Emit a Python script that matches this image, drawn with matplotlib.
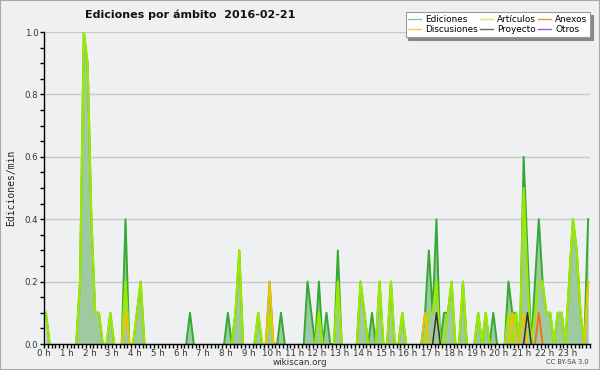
import numpy as np
import matplotlib
matplotlib.use("Agg")
import matplotlib.pyplot as plt
from matplotlib.patches import Rectangle
from matplotlib.lines import Line2D
from matplotlib.ticker import MultipleLocator, FixedLocator

# ---- data: edits per minute in 10-minute bins (144 bins, 6 per hour) ----
ediciones = [
    0.1, 0, 0, 0, 0, 0,          # 0h
    0, 0, 0, 0.2, 1.0, 0.9,      # 1h
    0.4, 0.1, 0.1, 0, 0, 0.1,    # 2h
    0, 0, 0, 0.4, 0, 0,          # 3h
    0.1, 0.2, 0, 0, 0, 0,        # 4h
    0, 0, 0, 0, 0, 0,            # 5h
    0, 0, 0.1, 0, 0, 0,          # 6h
    0, 0, 0, 0, 0, 0,            # 7h
    0.1, 0, 0.1, 0.3, 0, 0,      # 8h
    0, 0, 0.1, 0, 0, 0.2,        # 9h
    0, 0, 0.1, 0, 0, 0,          # 10h
    0, 0, 0, 0.2, 0.1, 0,        # 11h
    0.2, 0, 0.1, 0, 0, 0.3,      # 12h
    0, 0, 0, 0, 0, 0.2,          # 13h
    0.1, 0, 0.1, 0, 0.2, 0,      # 14h
    0, 0.2, 0, 0, 0.1, 0,        # 15h
    0, 0, 0, 0, 0.1, 0.3,        # 16h
    0.1, 0.4, 0, 0.1, 0.1, 0.2,  # 17h
    0, 0, 0.2, 0, 0, 0,          # 18h
    0.1, 0, 0.1, 0, 0.1, 0,      # 19h
    0, 0, 0.2, 0.1, 0.1, 0,      # 20h
    0.6, 0.3, 0, 0.2, 0.4, 0.2,  # 21h
    0.1, 0.1, 0, 0.1, 0.1, 0,    # 22h
    0.2, 0.4, 0.3, 0.1, 0, 0.4,  # 23h
]
articulos = [
    0.1, 0, 0, 0, 0, 0,
    0, 0, 0, 0.2, 1.0, 0.9,
    0.4, 0.1, 0.1, 0, 0, 0.1,
    0, 0, 0, 0.2, 0, 0,
    0.1, 0.2, 0, 0, 0, 0,
    0, 0, 0, 0, 0, 0,
    0, 0, 0, 0, 0, 0,
    0, 0, 0, 0, 0, 0,
    0, 0, 0.1, 0.3, 0, 0,
    0, 0, 0.1, 0, 0, 0.1,
    0, 0, 0, 0, 0, 0,
    0, 0, 0, 0, 0, 0,
    0.1, 0, 0, 0, 0, 0.2,
    0, 0, 0, 0, 0, 0.2,
    0.1, 0, 0, 0, 0.2, 0,
    0, 0.2, 0, 0, 0.1, 0,
    0, 0, 0, 0, 0, 0.1,
    0.1, 0.2, 0, 0, 0.1, 0.2,
    0, 0, 0.2, 0, 0, 0,
    0.1, 0, 0.1, 0, 0, 0,
    0, 0, 0.1, 0, 0.1, 0,
    0.5, 0.2, 0, 0.1, 0.2, 0.2,
    0.1, 0.1, 0, 0.1, 0.1, 0,
    0.2, 0.4, 0.3, 0.1, 0, 0.2,
]
# sparse series: {bin index: value}
discusiones = {21: 0.1, 59: 0.2, 100: 0.1, 123: 0.1, 126: 0.1, 143: 0.2}
proyecto = {103: 0.1, 127: 0.1}
anexos = {130: 0.1}
otros = {}

hour_labels = [f"{h} h" for h in range(24)]
y_labels = ["0.0", "0.2", "0.4", "0.6", "0.8", "1.0"]

N = 144
def dense(d):
    a = np.zeros(N)
    for k, v in d.items():
        a[k] = v
    return a

def masked(a):
    a = np.asarray(a, dtype=float)
    out = a.copy()
    for i in range(len(a)):
        left = a[i - 1] if i > 0 else 0
        right = a[i + 1] if i < len(a) - 1 else 0
        if a[i] == 0 and left == 0 and right == 0:
            out[i] = np.nan
    return out

x = (np.arange(N) + 0.5) / 6.0

BG = "#eff0f1"
fig = plt.figure(figsize=(6, 3.7), dpi=100, facecolor=BG)
ax = fig.add_axes([44 / 600, 26 / 370, 546 / 600, 312 / 370])
ax.set_facecolor(BG)
ax.set_xlim(0, 24)
ax.set_ylim(0, 1.0)

ed = np.array(ediciones)
ax.fill_between(x, 0, ed, color="#9fc99f", lw=0, zorder=1)
ax.plot(x, masked(ed), color="#33aa33", lw=1.4, zorder=2)
ax.plot(x, masked(articulos), color="#9ce800", lw=1.6, zorder=2.1)
ax.plot(x, masked(dense(discusiones)), color="#f5c000", lw=1.3, zorder=2.2)
ax.plot(x, masked(dense(anexos)), color="#ff6a1a", lw=1.3, zorder=2.2)
ax.plot(x, masked(dense(proyecto)), color="#333333", lw=1.1, zorder=2.3)
if otros:
    ax.plot(x, masked(dense(otros)), color="#9944ee", lw=1.1, zorder=2.2)

for s in ["top", "right"]:
    ax.spines[s].set_visible(False)
for s in ["left", "bottom"]:
    ax.spines[s].set_color("black")
    ax.spines[s].set_linewidth(1.0)
    ax.spines[s].set_zorder(3)

ax.xaxis.set_major_locator(FixedLocator(range(24)))
ax.set_xticklabels(hour_labels)
ax.xaxis.set_minor_locator(MultipleLocator(1 / 6))
ax.yaxis.set_major_locator(FixedLocator([0, 0.2, 0.4, 0.6, 0.8, 1.0]))
ax.set_yticklabels(y_labels)
ax.yaxis.set_minor_locator(MultipleLocator(0.05))
ax.tick_params(axis="both", which="both", direction="out", length=3, width=1,
               color="black", labelsize=6.2, labelcolor="#333333")
ax.tick_params(axis="x", which="major", pad=0.3)
ax.tick_params(axis="y", which="major", pad=1.2)
ax.grid(axis="y", which="major", color="#c8c8c8", lw=1, zorder=0.5)
ax.set_axisbelow(True)

ax.set_ylabel("Ediciones/min", fontsize=7, family="DejaVu Sans Mono", color="#222222", labelpad=6)

fig.text(85 / 600, 1 - 14.5 / 370, "Ediciones por ámbito  2016-02-21", fontsize=8,
         fontweight="bold", va="center", ha="left", color="#111111")
fig.text(300 / 600, 1 - 362.5 / 370, "wikiscan.org", fontsize=6.3, va="center", ha="center", color="#333333")
fig.text(589 / 600, 1 - 362.5 / 370, "CC BY-SA 3.0", fontsize=4.8, va="center", ha="right", color="#444444")

handles = [
    Line2D([], [], color="#88cc88", lw=1),
    Line2D([], [], color="#eecc55", lw=1),
    Line2D([], [], color="#ccee66", lw=1),
    Line2D([], [], color="#666666", lw=1),
    Line2D([], [], color="#ee8855", lw=1),
    Line2D([], [], color="#9955ee", lw=1),
]
labels = ["Ediciones", "Discusiones", "Artículos", "Proyecto", "Anexos", "Otros"]
leg = fig.legend(handles, labels, ncol=3, loc="upper right",
                 bbox_to_anchor=(590 / 600, 1 - 12 / 370), fontsize=6.4,
                 frameon=True, fancybox=False, shadow={"color": "#888888", "alpha": 1},
                 edgecolor="#999999", facecolor="white", framealpha=1,
                 handlelength=1.4, handletextpad=0.5, columnspacing=0.25,
                 labelspacing=0.18, borderpad=0.3, borderaxespad=0)
leg.get_frame().set_linewidth(0.8)

fig.patches.append(Rectangle((0, 0), 1, 1, transform=fig.transFigure, fill=False,
                             edgecolor="#aaaaaa", lw=1.5))

fig.savefig("out.png", dpi=100, facecolor=BG)
